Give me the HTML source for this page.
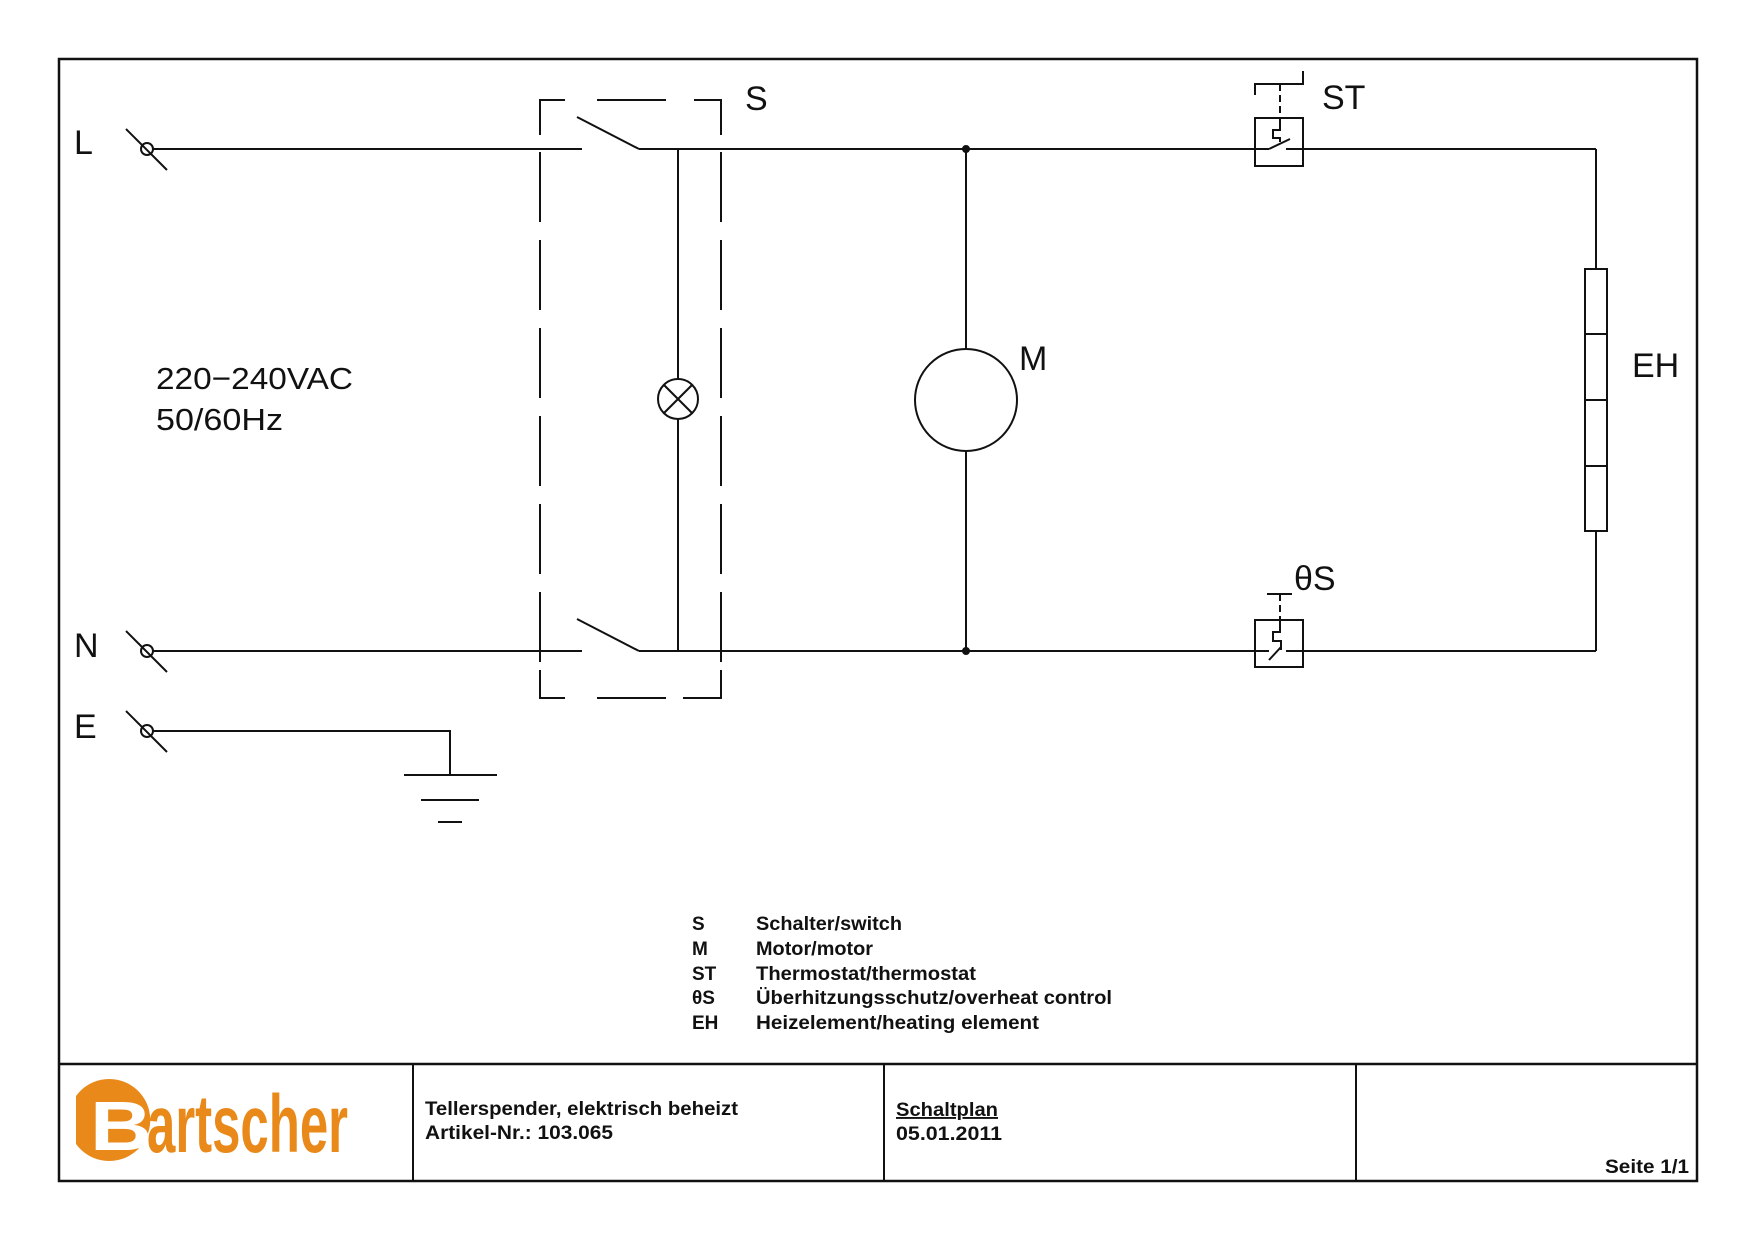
<!DOCTYPE html>
<html><head><meta charset="utf-8"><style>
html,body{margin:0;padding:0;background:#fff}
svg{display:block}
text{font-family:"Liberation Sans",Arial,sans-serif;fill:#111}
</style></head><body>
<svg width="1754" height="1241" viewBox="0 0 1754 1241" xmlns="http://www.w3.org/2000/svg">
<g fill="none" stroke="#111" stroke-width="2">
<!-- border -->
<rect x="59" y="59" width="1638" height="1122" stroke-width="2.5"/>
<line x1="59" y1="1064" x2="1697" y2="1064" stroke-width="2.5"/>
<line x1="413" y1="1064" x2="413" y2="1181"/>
<line x1="884" y1="1064" x2="884" y2="1181"/>
<line x1="1356" y1="1064" x2="1356" y2="1181"/>

<!-- terminals -->
<circle cx="147" cy="149" r="6"/><line x1="126" y1="129" x2="167" y2="170"/>
<circle cx="147" cy="651" r="6"/><line x1="126" y1="631" x2="167" y2="672"/>
<circle cx="147" cy="731" r="6"/><line x1="126" y1="711" x2="167" y2="752"/>

<!-- L line -->
<line x1="153" y1="149" x2="582" y2="149"/>
<line x1="577" y1="117" x2="639" y2="149"/>
<line x1="639" y1="149" x2="1269" y2="149"/>
<line x1="1286" y1="149" x2="1596" y2="149"/>
<line x1="1596" y1="149" x2="1596" y2="269"/>
<!-- N line -->
<line x1="153" y1="651" x2="582" y2="651"/>
<line x1="577" y1="619" x2="639" y2="651"/>
<line x1="639" y1="651" x2="1269" y2="651"/>
<line x1="1286" y1="651" x2="1596" y2="651"/>
<line x1="1596" y1="651" x2="1596" y2="531"/>
<!-- E -->
<polyline points="153,731 450,731 450,775"/>
<line x1="404" y1="775" x2="497" y2="775"/>
<line x1="421" y1="800" x2="479" y2="800"/>
<line x1="438" y1="822" x2="462" y2="822"/>

<!-- switch box dashed -->
<polyline points="565,100 540,100 540,135"/>
<line x1="597" y1="100" x2="666" y2="100"/>
<polyline points="694,100 721,100 721,135"/>
<line x1="540" y1="152" x2="540" y2="670" stroke-dasharray="70 18"/>
<line x1="721" y1="152" x2="721" y2="670" stroke-dasharray="70 18"/>
<polyline points="540,670 540,698 565,698"/>
<line x1="597" y1="698" x2="666" y2="698"/>
<polyline points="683,698 721,698 721,670"/>
<!-- lamp -->
<line x1="678" y1="149" x2="678" y2="379"/>
<line x1="678" y1="419" x2="678" y2="651"/>
<circle cx="678" cy="399" r="20"/>
<line x1="664" y1="385" x2="692" y2="413"/><line x1="692" y1="385" x2="664" y2="413"/>

<!-- motor -->
<line x1="966" y1="149" x2="966" y2="348"/>
<line x1="966" y1="452" x2="966" y2="651"/>
<circle cx="966" cy="400" r="51"/>
<circle cx="966" cy="149" r="3" fill="#111"/>
<circle cx="966" cy="651" r="3" fill="#111"/>

<!-- ST -->
<rect x="1255" y="118" width="48" height="48"/>
<polyline points="1255,95 1255,84 1303,84 1303,71"/>
<line x1="1280" y1="84" x2="1280" y2="118" stroke-dasharray="7 4"/>
<polyline points="1280,118 1280,130 1273,130 1273,138 1280,138 1280,142"/>
<line x1="1269" y1="149" x2="1290" y2="139"/>

<!-- thetaS -->
<rect x="1255" y="620" width="48" height="47"/>
<line x1="1267" y1="594" x2="1292" y2="594"/>
<line x1="1280" y1="594" x2="1280" y2="620" stroke-dasharray="7 4"/>
<polyline points="1280,620 1280,632 1273,632 1273,641 1281,641 1281,650"/>
<line x1="1269" y1="660" x2="1281" y2="647"/>

<!-- EH -->
<rect x="1585" y="269" width="22" height="262"/>
<line x1="1585" y1="334" x2="1607" y2="334"/>
<line x1="1585" y1="400" x2="1607" y2="400"/>
<line x1="1585" y1="466" x2="1607" y2="466"/>
</g>

<!-- labels -->
<g font-size="34">
<text x="74" y="154">L</text>
<text x="74" y="657">N</text>
<text x="74" y="738">E</text>
<text x="745" y="110">S</text>
<text x="1019" y="370">M</text>
<text x="1322" y="109">ST</text>
<text x="1632" y="377">EH</text>
<text x="1294" y="590">θS</text>
</g>
<text x="156" y="389" font-size="31" textLength="197" lengthAdjust="spacingAndGlyphs">220−240VAC</text>
<text x="156" y="430" font-size="31" textLength="127" lengthAdjust="spacingAndGlyphs">50/60Hz</text>

<!-- legend -->
<g font-size="19" font-weight="bold">
<text x="692" y="930">S</text><text x="756" y="930" textLength="146" lengthAdjust="spacingAndGlyphs">Schalter/switch</text>
<text x="692" y="955">M</text><text x="756" y="955" textLength="117" lengthAdjust="spacingAndGlyphs">Motor/motor</text>
<text x="692" y="980">ST</text><text x="756" y="980" textLength="220" lengthAdjust="spacingAndGlyphs">Thermostat/thermostat</text>
<text x="692" y="1004">θS</text><text x="756" y="1004" textLength="356" lengthAdjust="spacingAndGlyphs">Überhitzungsschutz/overheat control</text>
<text x="692" y="1029">EH</text><text x="756" y="1029" textLength="283" lengthAdjust="spacingAndGlyphs">Heizelement/heating element</text>
</g>

<!-- title block -->
<g font-size="19" font-weight="bold">
<text x="425" y="1115" textLength="313" lengthAdjust="spacingAndGlyphs">Tellerspender, elektrisch beheizt</text>
<text x="425" y="1139" textLength="188" lengthAdjust="spacingAndGlyphs">Artikel-Nr.: 103.065</text>
<text x="896" y="1116" textLength="102" lengthAdjust="spacingAndGlyphs" text-decoration="underline">Schaltplan</text>
<text x="896" y="1140" textLength="106" lengthAdjust="spacingAndGlyphs">05.01.2011</text>
<text x="1605" y="1173" textLength="84" lengthAdjust="spacingAndGlyphs">Seite 1/1</text>
</g>

<!-- logo -->
<g fill="#E8891A">
<path d="M76,1096 A41,41 0 1 1 76,1144 Z"/>
<text x="147" y="1152" font-size="82" font-weight="bold" textLength="201" lengthAdjust="spacingAndGlyphs" style="fill:#E8891A">artscher</text>
</g>
<text x="90" y="1150" font-size="70" font-weight="bold" textLength="62" lengthAdjust="spacingAndGlyphs" style="fill:#fff">B</text>
</svg>
</body></html>
